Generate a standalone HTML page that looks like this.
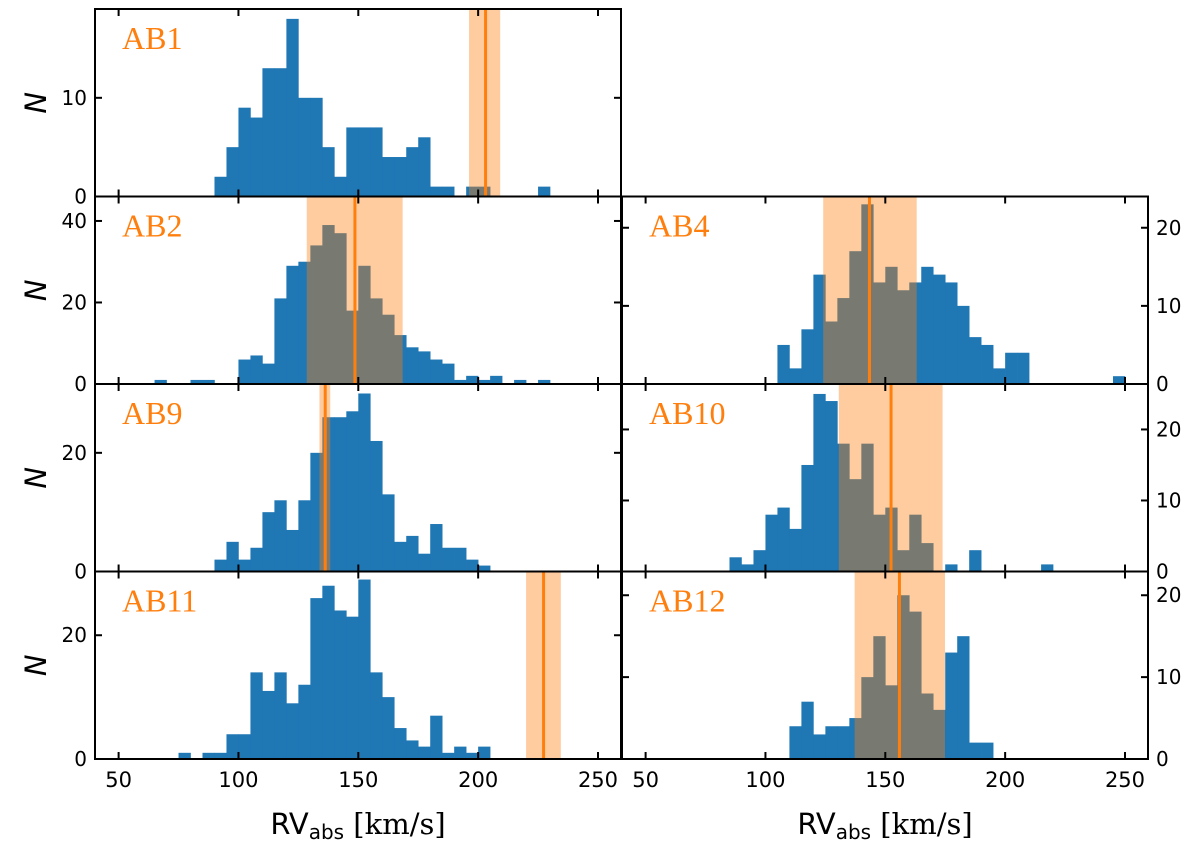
<!DOCTYPE html>
<html><head><meta charset="utf-8"><style>
body{margin:0;background:#fff;}
svg{display:block;}
</style></head><body>
<svg id="chart" width="1200" height="846" xmlns="http://www.w3.org/2000/svg"></svg>
<script>
const NS="http://www.w3.org/2000/svg";
const panelNames=["AB1","AB2","AB4","AB9","AB10","AB11","AB12"];
const binWidth=5;
const binStartAB1=90, countsAB1=[2,5,9,8,13,13,18,10,10,5,2,7,7,7,4,4,5,6,1,1,0,1,1,0,0,0,0,1];
const binStartAB2=65, countsAB2=[1,0,0,1,1,0,0,6,7,5,21,29,30,34,39,37,18,29,21,17,12,9,8,6,5,1,2,1,2,0,1,0,1];
const binStartAB4=105, countsAB4=[5,2,7,14,8,11,17,23,13,15,12,13,15,14,13,10,6,5,2,4,4,0,0,0,0,0,0,0,1];
const binStartAB9=90, countsAB9=[2,5,2,4,10,12,7,12,20,26,26,27,30,22,13,5,6,3,8,4,4,2,1];
const binStartAB10=85, countsAB10=[2,1,3,8,9,6,15,25,24,18,13,18,8,9,3,8,4,0,1,0,3,0,0,0,0,0,1];
const binStartAB11=75, countsAB11=[1,0,1,1,4,4,14,11,14,9,12,26,28,24,23,29,14,10,5,3,2,7,1,2,1,2];
const binStartAB12=110, countsAB12=[4,7,3,4,4,5,10,15,9,20,18,8,6,13,15,2,2];
const rvCentre=[203.1,148.6,143.4,136.2,152.4,227.3,155.9];
const rvLow=[196.2,128.5,124.1,133.8,130.6,220.0,137.2];
const rvHigh=[209.2,168.5,163.1,138.3,173.9,234.5,174.9];
const yMax=[19,46,24,31.6,26.4,30.3,22.9];
const yTicks=[[0,10],[0,20,40],[0,10,20],[0,20],[0,10,20],[0,20],[0,10,20]];
const xTicks=[50,100,150,200,250];
const binStarts=[binStartAB1,binStartAB2,binStartAB4,binStartAB9,binStartAB10,binStartAB11,binStartAB12];
const countsAll=[countsAB1,countsAB2,countsAB4,countsAB9,countsAB10,countsAB11,countsAB12];
const layout=[[0,0],[0,1],[1,1],[0,2],[1,2],[0,3],[1,3]];
const colX=[95,622], pw=526, rowY=[9,196.5,384,571.5], ph=187.5;
const XMIN=40.15, XMAX=259.6;
const svg=document.getElementById('chart');
function mk(tag,attrs,parent){const e=document.createElementNS(NS,tag);for(const k in attrs)e.setAttribute(k,attrs[k]);(parent||svg).appendChild(e);return e;}
panelNames.forEach((name,i)=>{
  const [c,r]=layout[i];
  const x0=colX[c], y0=rowY[r];
  const xs=v=>x0+(v-XMIN)/(XMAX-XMIN)*pw;
  const ys=v=>y0+ph-v/yMax[i]*ph;
  const g=mk('g',{});
  
  
  const counts=countsAll[i];
  counts.forEach((n,k)=>{
    if(n<=0)return;
    const a=binStarts[i]+k*binWidth;
    const rc=mk('rect',{x:xs(a),y:ys(n),width:xs(a+binWidth)-xs(a)+0.3,height:ys(0)-ys(n),fill:'#1f77b4'},g);
    
    
  });
  const band=mk('rect',{x:xs(rvLow[i]),y:y0,width:xs(rvHigh[i])-xs(rvLow[i]),height:ph,fill:'#ff7f0e','fill-opacity':0.4},g);
  
  
  const ln=mk('line',{x1:xs(rvCentre[i]),x2:xs(rvCentre[i]),y1:y0,y2:y0+ph,stroke:'#ff7f0e','stroke-width':3},g);
  
  
  xTicks.forEach(t=>{
    mk('line',{x1:xs(t),x2:xs(t),y1:y0+ph,y2:y0+ph-7,stroke:'#000','stroke-width':2},g);
    mk('line',{x1:xs(t),x2:xs(t),y1:y0,y2:y0+7,stroke:'#000','stroke-width':2},g);
    if(r===3){const tl=mk('text',{x:xs(t),y:y0+ph+28,'text-anchor':'middle','font-size':21,'font-family':'DejaVu Sans, sans-serif'},g);tl.textContent=t;
      
      }
  });
  yTicks[i].forEach(t=>{
    mk('line',{x1:x0,x2:x0+7,y1:ys(t),y2:ys(t),stroke:'#000','stroke-width':2},g);
    mk('line',{x1:x0+pw-7,x2:x0+pw,y1:ys(t),y2:ys(t),stroke:'#000','stroke-width':2},g);
    const tx=c===0?x0-8:x0+pw+8;
    const tl=mk('text',{x:tx,y:ys(t)+7,'text-anchor':c===0?'end':'start','font-size':20,'font-family':'DejaVu Sans, sans-serif'},g);
    tl.textContent=t;
    
    
  });
  mk('rect',{x:x0,y:y0,width:pw,height:ph,fill:'none',stroke:'#000','stroke-width':2},g);
  const lab=mk('text',{x:x0+27,y:y0+40,fill:'#ff7f0e','font-size':32,'font-family':'Liberation Serif, serif'},g);
  lab.textContent=name;
  
  
  if(c===0){
    const yl=mk('text',{x:0,y:0,'font-size':29,'font-style':'italic','font-family':'DejaVu Sans, sans-serif','text-anchor':'middle',transform:`translate(46,${y0+ph/2}) rotate(-90)`},g);
    yl.textContent='N';
    
    
  }
});
[358,885].forEach(cx=>{
  const t=mk('text',{x:cx,y:834,'text-anchor':'middle','font-size':29,'font-family':'DejaVu Sans, sans-serif'});
  
  
  const a=mk('tspan',{},t);a.textContent='RV';
  const b=mk('tspan',{'font-size':20,dy:5},t);b.textContent='abs';
  const d=mk('tspan',{dy:-5,'font-family':'DejaVu Serif, serif'},t);d.textContent=' [km/s]';
});
</script>
</body></html>
